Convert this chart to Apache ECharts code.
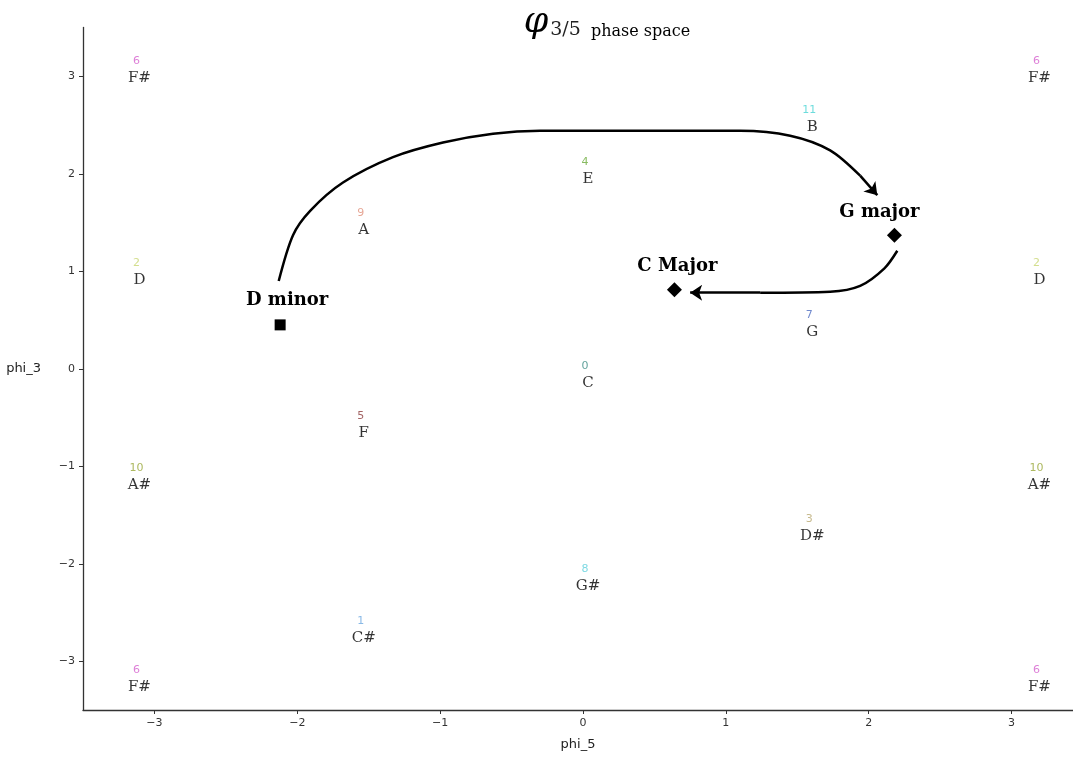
<!DOCTYPE html>
<html>
<head>
<meta charset="utf-8">
<script src="https://cdn.jsdelivr.net/npm/echarts@6/dist/echarts.min.js"></script>
<style>
  html, body { margin: 0; padding: 0; background: #fff; }
  #phaseSpace { width: 1073px; height: 758px; }
</style>
</head>
<body>
<div id="phaseSpace"></div>
<script>
// pitch classes on the torus (phi_5, phi_3)
const noteNames = ["F#", "F#", "F#", "F#", "B", "E", "A", "D", "D", "G", "C", "F", "A#", "A#", "D#", "G#", "C#"];
const noteNums = [6, 6, 6, 6, 11, 4, 9, 2, 2, 7, 0, 5, 10, 10, 3, 8, 1];
const notePhi5 = [-3.14, 3.16, -3.14, 3.16, 1.57, 0, -1.57, -3.14, 3.16, 1.57, 0, -1.57, -3.14, 3.16, 1.57, 0, -1.57];
const notePhi3 = [3.12, 3.12, -3.12, -3.12, 2.62, 2.09, 1.57, 1.05, 1.05, 0.52, 0, -0.52, -1.05, -1.05, -1.57, -2.09, -2.62];
const numColors = {
  0: "#3c8c84", 1: "#6ca8e0", 2: "#c8d670", 3: "#b8a870", 4: "#6aaa3a", 5: "#8c3c3c",
  6: "#d55fcd", 7: "#4c6cc0", 8: "#5cd0dc", 9: "#e0907a", 10: "#98a838", 11: "#48d3d3"
};

// chords
const chordNames = ["D minor", "C Major", "G major"];
const chordPhi5 = [-2.12, 0.64, 2.18];
const chordPhi3 = [0.45, 0.81, 1.37];

// hand-drawn arrows (data coords)
const arrow1 = [[-2.13, 0.90], [-2.03, 1.37], [-1.91, 1.62], [-1.68, 1.91], [-1.33, 2.17],
  [-0.98, 2.32], [-0.63, 2.41], [-0.30, 2.44], [1.10, 2.44], [1.45, 2.39], [1.73, 2.24],
  [1.94, 1.98], [2.06, 1.78]];
const arrow2 = [[2.20, 1.21], [2.11, 1.03], [1.94, 0.85], [1.73, 0.79], [1.24, 0.78], [0.75, 0.78]];

const tickValues = [-3, -2, -1, 0, 1, 2, 3];

const chart = echarts.init(document.getElementById("phaseSpace"));

const fmt = v => String(v).replace("-", "\u2212");

const numData = noteNums.map((n, i) => ({
  value: [notePhi5[i], notePhi3[i]],
  label: { formatter: String(n), color: numColors[n] }
}));
const nameData = noteNames.map((n, i) => ({
  value: [notePhi5[i], notePhi3[i]],
  label: { formatter: n }
}));

const chordLabelOffset = [[7, 2], [3, 5], [-15, 6]];
const chordData = chordNames.map((n, i) => ({
  value: [chordPhi5[i], chordPhi3[i]],
  symbol: i === 0 ? "rect" : "diamond",
  symbolSize: i === 0 ? 11 : 15,
  label: { formatter: n, offset: chordLabelOffset[i] }
}));

const arrowLine = (pts) => ({
  type: "line",
  data: pts.slice(0, pts.length - 1),
  smooth: 0.3,
  showSymbol: false,
  symbol: "none",
  lineStyle: { color: "#000", width: 2.5 },
  silent: true,
  z: 4
});
const arrowHead = (pts) => ({
  type: "lines",
  coordinateSystem: "cartesian2d",
  data: [{ coords: [pts[pts.length - 2], pts[pts.length - 1]] }],
  symbol: ["none", "arrow"],
  symbolSize: 12,
  lineStyle: { color: "#000", width: 2.5, opacity: 1 },
  silent: true,
  z: 4
});

const option = {
  animation: false,
  backgroundColor: "#fff",
  title: {
    left: 602,
    top: 0,
    textAlign: "center",
    text: "{phi|\u03C6}{sub|3/5}{t|  phase space}",
    textStyle: {
      fontWeight: "normal",
      rich: {
        phi: { fontFamily: "DejaVu Serif", fontStyle: "italic", fontWeight: "normal", fontSize: 35, color: "#000", verticalAlign: "bottom" },
        sub: { fontFamily: "DejaVu Serif", fontWeight: "normal", fontSize: 19, color: "#222", verticalAlign: "bottom", padding: [0, 0, 0, 2] },
        t: { fontFamily: "DejaVu Serif", fontWeight: "normal", fontSize: 16, color: "#000", verticalAlign: "bottom" }
      }
    }
  },
  grid: { left: 83, right: 0, top: 27.5, bottom: 48 },
  xAxis: {
    type: "value",
    min: -3.5,
    max: 3.43,
    name: "phi_5",
    nameLocation: "middle",
    nameGap: 28,
    nameTextStyle: { fontFamily: "DejaVu Sans", fontSize: 13, color: "#222" },
    splitLine: { show: false },
    axisLine: { onZero: false, lineStyle: { color: "#333", width: 1.3 } },
    axisTick: { show: true, length: 4, customValues: tickValues, lineStyle: { color: "#333" } },
    axisLabel: { customValues: tickValues, formatter: fmt, fontFamily: "DejaVu Sans", fontSize: 11, color: "#333", margin: 8 }
  },
  yAxis: {
    type: "value",
    min: -3.5,
    max: 3.5,
    name: "phi_3",
    nameLocation: "middle",
    nameRotate: 0,
    nameGap: 42,
    nameTextStyle: { fontFamily: "DejaVu Sans", fontSize: 13, color: "#222" },
    splitLine: { show: false },
    axisLine: { show: true, onZero: false, lineStyle: { color: "#333", width: 1.3 } },
    axisTick: { show: true, length: 4, customValues: tickValues, lineStyle: { color: "#333" } },
    axisLabel: { customValues: tickValues, formatter: fmt, fontFamily: "DejaVu Sans", fontSize: 11, color: "#333", margin: 8 }
  },
  series: [
    {
      name: "num",
      type: "scatter",
      data: numData,
      symbolSize: 0,
      label: {
        show: true,
        position: "inside",
        offset: [2, -3],
        fontFamily: "DejaVu Sans",
        fontSize: 11
      },
      silent: true
    },
    {
      name: "note",
      type: "scatter",
      data: nameData,
      symbolSize: 0,
      label: {
        show: true,
        position: "inside",
        offset: [5, 14],
        fontFamily: "DejaVu Serif",
        fontSize: 15,
        color: "#000"
      },
      silent: true
    },
    arrowLine(arrow1),
    arrowHead(arrow1),
    arrowLine(arrow2),
    arrowHead(arrow2),
    {
      name: "chords",
      type: "scatter",
      data: chordData,
      itemStyle: { color: "#000", opacity: 1 },
      label: {
        show: true,
        position: "top",
        distance: 12,
        fontFamily: "DejaVu Serif",
        fontWeight: "bold",
        fontSize: 18,
        color: "#000"
      },
      silent: true,
      z: 5
    }
  ]
};

chart.setOption(option);
</script>
</body>
</html>
